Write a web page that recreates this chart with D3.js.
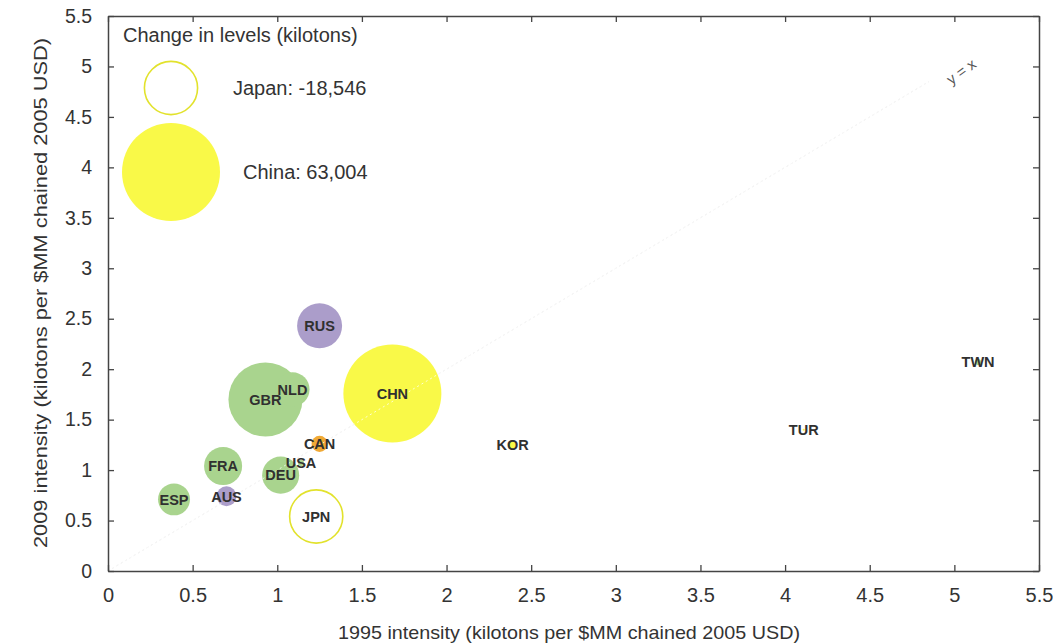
<!DOCTYPE html>
<html>
<head>
<meta charset="utf-8">
<script src="https://cdn.jsdelivr.net/npm/d3@7"></script>
<style>
  html, body { margin: 0; padding: 0; background: #fff; }
  svg { display: block; font-family: "Liberation Sans", Arial, sans-serif; }
</style>
</head>
<body>
<svg id="chart" width="1053" height="643"></svg>
<script>
// Emission intensity by country: 1995 vs 2009, bubble area = change in levels
const countries      = ["GBR", "NLD", "RUS", "CHN", "FRA", "DEU", "ESP", "AUS", "CAN", "USA", "JPN", "KOR", "TUR", "TWN"];
const intensity1995  = [0.93, 1.09, 1.25, 1.68, 0.68, 1.02, 0.39, 0.70, 1.25, 1.14, 1.23, 2.39, 4.11, 5.14];
const intensity2009  = [1.70, 1.80, 2.43, 1.76, 1.04, 0.95, 0.71, 0.74, 1.26, 1.07, 0.54, 1.25, 1.40, 2.07];
const changeKilotons = [35900, 7600, 13300, 63004, 9500, 9000, 6700, 2600, 1700, 240, -18546, 420, 30, 240];
const regionGroup    = ["europe", "europe", "eurasia", "asia", "europe", "europe", "europe", "eurasia", "americas", "europe", "asia", "asia", "asia", "europe"];

const tickValues   = [0, 0.5, 1, 1.5, 2, 2.5, 3, 3.5, 4, 4.5, 5, 5.5];
const legendNames  = ["Japan", "China"];
const legendCodes  = ["JPN", "CHN"];

const groupColor = {
  europe:   "#a9d48e",
  eurasia:  "#ab9dca",
  asia:     "#f9f948",
  americas: "#f0a935"
};

const svg = d3.select("#chart");

const x = d3.scaleLinear().domain([0, 5.5]).range([108, 1039]);
const y = d3.scaleLinear().domain([0, 5.5]).range([571, 16]);
const r = d3.scaleSqrt().domain([0, 63004]).range([0, 49]);

const rows = countries.map((c, i) => ({
  code: c,
  x0: intensity1995[i],
  y1: intensity2009[i],
  change: changeKilotons[i],
  color: groupColor[regionGroup[i]]
}));

// y = x reference line (beneath the bubbles)
const diag = [0, 4.85];
svg.append("line")
  .attr("x1", x(diag[0])).attr("y1", y(diag[0]))
  .attr("x2", x(diag[1])).attr("y2", y(diag[1]))
  .attr("stroke", "#e2e2e2").attr("stroke-width", 1)
  .attr("stroke-dasharray", "2,3");

// bubbles: filled for increases, outlined for decreases
svg.append("g").selectAll("circle")
  .data(rows)
  .join("circle")
  .attr("cx", d => x(d.x0))
  .attr("cy", d => y(d.y1))
  .attr("r", d => r(Math.abs(d.change)))
  .attr("fill", d => d.change < 0 ? "#fff" : d.color)
  .attr("stroke", d => d.change < 0 ? "#e2e22c" : "none")
  .attr("stroke-width", 1.6);

// y = x line again, lightly over the bubbles
svg.append("line")
  .attr("x1", x(diag[0])).attr("y1", y(diag[0]))
  .attr("x2", x(diag[1])).attr("y2", y(diag[1]))
  .attr("stroke", "rgba(255,255,255,0.75)").attr("stroke-width", 1)
  .attr("stroke-dasharray", "2,3");

svg.append("text")
  .attr("transform", `translate(${x(5.04)},${y(4.95)}) rotate(-36)`)
  .attr("text-anchor", "middle")
  .attr("dy", "0.35em")
  .attr("font-size", 15)
  .attr("fill", "#555")
  .text("y = x");

// country labels
svg.append("g").selectAll("text")
  .data(rows)
  .join("text")
  .attr("x", d => x(d.x0))
  .attr("y", d => y(d.y1))
  .attr("dy", "0.36em")
  .attr("text-anchor", "middle")
  .attr("font-size", 14.5)
  .attr("font-weight", "bold")
  .attr("fill", "#303030")
  .text(d => d.code);

// axes (ticks pointing inward on all four sides)
const axisColor = "#444";
function styleAxis(g) {
  g.select(".domain").attr("stroke", axisColor).attr("stroke-width", 1.5);
  g.selectAll(".tick line").attr("stroke", axisColor).attr("stroke-width", 1.3);
  g.selectAll(".tick text").attr("fill", "#333").attr("font-family", "Liberation Sans, Arial, sans-serif");
}

svg.append("g")
  .attr("transform", `translate(0,${y(0)})`)
  .call(d3.axisBottom(x).tickValues(tickValues).tickSize(-6).tickSizeOuter(0).tickPadding(17).tickFormat(d3.format("")))
  .call(styleAxis)
  .call(g => g.selectAll(".tick text").attr("font-size", 20));

svg.append("g")
  .attr("transform", `translate(${x(0)},0)`)
  .call(d3.axisLeft(y).tickValues(tickValues).tickSize(-6).tickSizeOuter(0).tickPadding(16).tickFormat(d3.format("")))
  .call(styleAxis)
  .call(g => g.selectAll(".tick text").attr("font-size", 19.5));

svg.append("g")
  .attr("transform", `translate(0,${y(5.5)})`)
  .call(d3.axisTop(x).tickValues(tickValues).tickSize(-6).tickSizeOuter(0).tickFormat(""))
  .call(styleAxis);

svg.append("g")
  .attr("transform", `translate(${x(5.5)},0)`)
  .call(d3.axisRight(y).tickValues(tickValues).tickSize(-6).tickSizeOuter(0).tickFormat(""))
  .call(styleAxis);

// axis titles
svg.append("text")
  .attr("x", 569).attr("y", 639)
  .attr("text-anchor", "middle")
  .attr("font-size", 19)
  .attr("fill", "#333")
  .attr("textLength", 462).attr("lengthAdjust", "spacingAndGlyphs")
  .text("1995 intensity (kilotons per $MM chained 2005 USD)");

svg.append("text")
  .attr("transform", "translate(47,293) rotate(-90)")
  .attr("text-anchor", "middle")
  .attr("font-size", 19)
  .attr("fill", "#333")
  .attr("textLength", 510).attr("lengthAdjust", "spacingAndGlyphs")
  .text("2009 intensity (kilotons per $MM chained 2005 USD)");

// legend
const legend = svg.append("g");
legend.append("text")
  .attr("x", 123).attr("y", 42)
  .attr("font-size", 20)
  .attr("fill", "#333")
  .text("Change in levels (kilotons)");

const fmt = v => d3.format(",")(v).replace("\u2212", "-");
const legendRows = legendNames.map((n, i) => {
  const row = rows.find(d => d.code === legendCodes[i]);
  return { name: n, change: row.change, color: row.color };
});
const legendCy = [88, 172];
const legendTx = [233, 243];

legend.selectAll("circle")
  .data(legendRows)
  .join("circle")
  .attr("cx", 171)
  .attr("cy", (d, i) => legendCy[i])
  .attr("r", d => r(Math.abs(d.change)))
  .attr("fill", d => d.change < 0 ? "#fff" : d.color)
  .attr("stroke", d => d.change < 0 ? "#e2e22c" : "none")
  .attr("stroke-width", 1.6);

legend.selectAll("text.item")
  .data(legendRows)
  .join("text")
  .attr("class", "item")
  .attr("x", (d, i) => legendTx[i])
  .attr("y", (d, i) => legendCy[i])
  .attr("dy", "0.36em")
  .attr("font-size", 20)
  .attr("fill", "#333")
  .text(d => `${d.name}: ${fmt(d.change)}`);
</script>
</body>
</html>
